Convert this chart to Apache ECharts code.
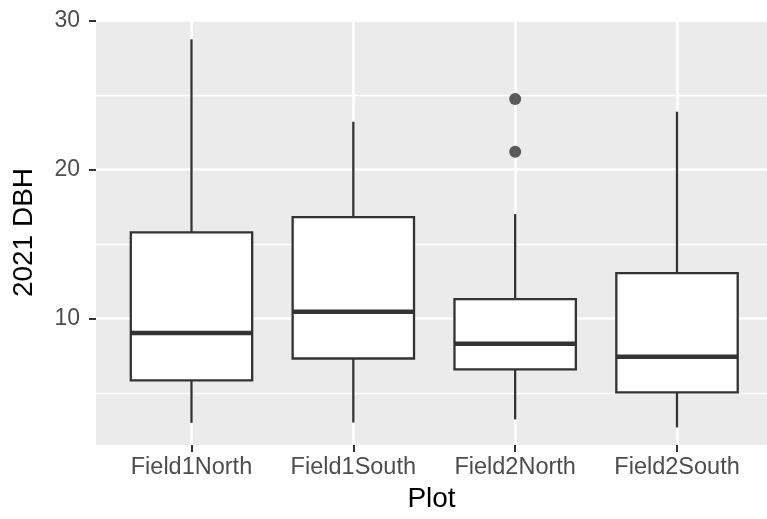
<!DOCTYPE html>
<html>
<head>
<meta charset="utf-8">
<script src="https://cdn.jsdelivr.net/npm/echarts@6/dist/echarts.min.js"></script>
<style>
  html, body { margin: 0; padding: 0; background: #ffffff; }
  #chart { width: 767px; height: 519px; }
</style>
</head>
<body>
<div id="chart"></div>
<script>
// ---- data ----
const categories   = ['Field1North', 'Field1South', 'Field2North', 'Field2South'];
const whiskerLow   = [2.99, 3.01, 3.22, 2.68];
const q1           = [5.84, 7.31, 6.58, 5.03];
const medians      = [9.02, 10.45, 8.30, 7.42];
const q3           = [15.78, 16.81, 11.30, 13.05];
const whiskerHigh  = [28.75, 23.22, 17.01, 23.89];
const outlierPlot  = ['Field2North', 'Field2North'];
const outlierValue = [24.74, 21.20];
const yMajorTicks  = [10, 20, 30];
const yMinorTicks  = [5, 15, 25];
const xTickIndex   = categories.map((c, i) => i);

const FONT = "'Liberation Sans', Arial, Helvetica, sans-serif";
const INK = '#333333';

const boxData = categories.map((c, i) =>
  [i, whiskerLow[i], q1[i], medians[i], q3[i], whiskerHigh[i]]);
const outlierData = outlierPlot.map((p, k) => [categories.indexOf(p), outlierValue[k]]);

const chart = echarts.init(document.getElementById('chart'), null, { renderer: 'canvas' });

chart.setOption({
  backgroundColor: '#ffffff',
  animation: false,
  grid: {
    left: 96, right: 0, top: 20, bottom: 74,
    show: true, backgroundColor: '#EBEBEB', borderWidth: 0
  },
  xAxis: {
    type: 'value',
    min: -0.59, max: 3.556,
    name: 'Plot',
    nameLocation: 'middle',
    nameGap: 40,
    nameTextStyle: { fontSize: 28, color: '#000000', fontFamily: FONT },
    axisLine: { show: false, onZero: false },
    axisTick: { show: true, length: 7, customValues: xTickIndex,
                lineStyle: { color: INK, width: 2 } },
    axisLabel: { show: true, customValues: xTickIndex, margin: 11,
                 fontSize: 23.5, color: '#4D4D4D', fontFamily: FONT,
                 formatter: v => categories[Math.round(v)] },
    splitLine: { show: true, lineStyle: { color: '#FFFFFF', width: 2.6 } }
  },
  yAxis: [
    {
      type: 'value',
      min: 1.5, max: 30.05,
      name: '2021 DBH',
      nameLocation: 'middle',
      nameGap: 58,
      nameTextStyle: { fontSize: 28, color: '#000000', fontFamily: FONT },
      axisLine: { show: false, onZero: false },
      axisTick: { show: true, length: 7, customValues: yMajorTicks,
                  lineStyle: { color: INK, width: 2 } },
      axisLabel: { show: true, customValues: yMajorTicks, margin: 16,
                   fontSize: 23, color: '#4D4D4D', fontFamily: FONT },
      splitLine: { show: true, lineStyle: { color: '#FFFFFF', width: 2.6 } }
    },
    {
      type: 'value',
      min: 1.5, max: 30.05,
      position: 'left',
      axisLine: { show: false, onZero: false },
      axisTick: { show: false, customValues: yMinorTicks },
      axisLabel: { show: false },
      splitLine: { show: true, lineStyle: { color: '#FFFFFF', width: 1.3 } }
    }
  ],
  series: [
    {
      type: 'custom',
      name: 'box',
      xAxisIndex: 0, yAxisIndex: 0,
      z: 3,
      data: boxData,
      encode: { x: 0, y: [1, 2, 3, 4, 5] },
      renderItem: function (params, api) {
        const x = api.value(0);
        const pLo = api.coord([x, api.value(1)]);
        const pQ1 = api.coord([x, api.value(2)]);
        const pMd = api.coord([x, api.value(3)]);
        const pQ3 = api.coord([x, api.value(4)]);
        const pHi = api.coord([x, api.value(5)]);
        const halfW = api.size([0.75, 0])[0] / 2;
        const cx = pMd[0];
        return {
          type: 'group',
          children: [
            { type: 'line', shape: { x1: cx, y1: pHi[1], x2: cx, y2: pQ3[1] },
              style: { stroke: INK, lineWidth: 2.3 } },
            { type: 'line', shape: { x1: cx, y1: pQ1[1], x2: cx, y2: pLo[1] },
              style: { stroke: INK, lineWidth: 2.3 } },
            { type: 'rect', shape: { x: cx - halfW, y: pQ3[1], width: 2 * halfW, height: pQ1[1] - pQ3[1] },
              style: { fill: '#FFFFFF', stroke: INK, lineWidth: 2.3 } },
            { type: 'line', shape: { x1: cx - halfW, y1: pMd[1], x2: cx + halfW, y2: pMd[1] },
              style: { stroke: INK, lineWidth: 4.5 } }
          ]
        };
      }
    },
    {
      type: 'scatter',
      name: 'outliers',
      xAxisIndex: 0, yAxisIndex: 0,
      z: 4,
      symbol: 'circle',
      symbolSize: 12,
      itemStyle: { color: INK },
      data: outlierData
    }
  ]
});
</script>
</body>
</html>
